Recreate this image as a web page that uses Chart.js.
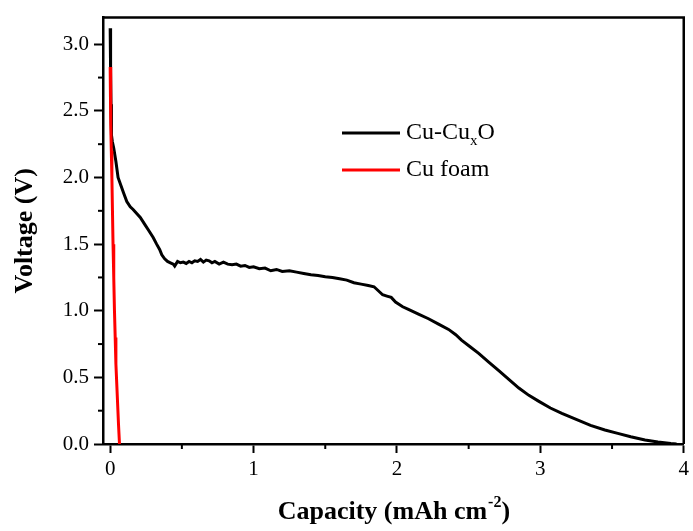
<!DOCTYPE html>
<html>
<head>
<meta charset="utf-8">
<script src="https://cdn.jsdelivr.net/npm/chart.js@4"></script>
<style>
    html, body { margin: 0; padding: 0; background: #fff; }
    #wrap { width: 693px; height: 531px; position: relative; }
</style>
</head>
<body>
<div id="wrap"><canvas id="voltageChart"></canvas></div>
<script>
// Discharge curves
const capCu = [0, 0.002, 0.004, 0.006, 0.008, 0.01, 0.015, 0.025, 0.04, 0.055, 0.075, 0.095, 0.116, 0.14, 0.16, 0.185, 0.21, 0.24, 0.27, 0.30,
    0.324, 0.345, 0.36, 0.38, 0.40, 0.42, 0.44, 0.45, 0.47, 0.49, 0.51, 0.53, 0.55, 0.57, 0.59, 0.61, 0.63, 0.65, 0.67, 0.69,
    0.71, 0.73, 0.76, 0.79, 0.82, 0.85, 0.88, 0.91, 0.94, 0.97, 1.00, 1.04, 1.08, 1.12, 1.16, 1.20, 1.25, 1.30, 1.35, 1.40,
    1.45, 1.50, 1.55, 1.60, 1.65, 1.70, 1.75, 1.80, 1.84, 1.87, 1.90, 1.93, 1.96, 1.99, 2.04, 2.08, 2.15, 2.22, 2.29, 2.36,
    2.41, 2.45, 2.51, 2.57, 2.64, 2.71, 2.78, 2.85, 2.92, 2.99, 3.07, 3.15, 3.25, 3.35, 3.45, 3.54, 3.63, 3.73, 3.82, 3.91, 3.95];
const voltCu = [3.12, 3.0, 2.8, 2.55, 2.38, 2.32, 2.27, 2.22, 2.12, 2.0, 1.94, 1.88, 1.82, 1.78, 1.76, 1.73, 1.70, 1.65, 1.60, 1.55,
    1.50, 1.46, 1.42, 1.39, 1.37, 1.36, 1.35, 1.335, 1.37, 1.36, 1.365, 1.355, 1.37, 1.36, 1.375, 1.37, 1.385, 1.365, 1.38, 1.375,
    1.36, 1.37, 1.35, 1.365, 1.35, 1.345, 1.35, 1.335, 1.34, 1.325, 1.33, 1.315, 1.32, 1.30, 1.31, 1.295, 1.30, 1.29, 1.28, 1.27,
    1.265, 1.255, 1.25, 1.24, 1.23, 1.21, 1.20, 1.19, 1.18, 1.15, 1.12, 1.11, 1.10, 1.065, 1.03, 1.01, 0.975, 0.94, 0.90, 0.86,
    0.82, 0.78, 0.73, 0.68, 0.615, 0.55, 0.485, 0.42, 0.365, 0.32, 0.27, 0.23, 0.185, 0.14, 0.105, 0.08, 0.055, 0.03, 0.015, 0.003, 0.0];

const capFoam = [0, 0.003, 0.005, 0.008, 0.012, 0.016, 0.02, 0.025, 0.03, 0.035, 0.04, 0.046, 0.052, 0.058, 0.065];
const voltFoam = [2.83, 2.6, 2.4, 2.2, 2.0, 1.75, 1.5, 1.25, 1.0, 0.8, 0.6, 0.45, 0.3, 0.15, 0.0];

const xTicks = [0, 1, 2, 3, 4];
const yTicks = [0, 0.5, 1.0, 1.5, 2.0, 2.5, 3.0];

const seriesNames = ['Cu-Cu', 'Cu foam'];
const seriesColors = ['#000000', '#ff0000'];

const serif = "'Liberation Serif', 'Times New Roman', serif";

function toPoints(xs, ys) {
    return xs.map(function(x, i) { return { x: x, y: ys[i] }; });
}

// Box, minor ticks, axis titles and legend
const framePlugin = {
    id: 'frame',
    afterDraw: function(chart) {
        const ctx = chart.ctx;
        const area = chart.chartArea;
        const xs = chart.scales.x;
        const ys = chart.scales.y;

        ctx.save();
        ctx.strokeStyle = '#000';
        ctx.lineWidth = 2.5;
        ctx.beginPath();
        ctx.moveTo(area.left, area.top);
        ctx.lineTo(area.right, area.top);
        ctx.lineTo(area.right, area.bottom);
        ctx.stroke();

        // minor ticks half way between majors
        ctx.lineWidth = 2;
        for (let i = 0; i < xTicks.length - 1; i++) {
            const px = xs.getPixelForValue((xTicks[i] + xTicks[i + 1]) / 2);
            ctx.beginPath();
            ctx.moveTo(px, area.bottom);
            ctx.lineTo(px, area.bottom + 5);
            ctx.stroke();
        }
        for (let i = 0; i < yTicks.length - 1; i++) {
            const py = ys.getPixelForValue((yTicks[i] + yTicks[i + 1]) / 2);
            ctx.beginPath();
            ctx.moveTo(area.left, py);
            ctx.lineTo(area.left - 5, py);
            ctx.stroke();
        }

        ctx.fillStyle = '#000';

        // x title with superscript
        const cx = (area.left + area.right) / 2;
        const mainTxt = 'Capacity (mAh cm';
        ctx.font = 'bold 16px ' + serif;
        const supW = ctx.measureText('-2').width;
        ctx.font = 'bold 26px ' + serif;
        const mainW = ctx.measureText(mainTxt).width;
        const closeW = ctx.measureText(')').width;
        let tx = cx - (mainW + supW + closeW) / 2;
        ctx.textBaseline = 'alphabetic';
        ctx.textAlign = 'left';
        ctx.fillText(mainTxt, tx, 519);
        ctx.font = 'bold 16px ' + serif;
        ctx.fillText('-2', tx + mainW + 1, 507);
        ctx.font = 'bold 26px ' + serif;
        ctx.fillText(')', tx + mainW + supW + 1, 519);

        // y title
        ctx.save();
        ctx.translate(32, (area.top + area.bottom) / 2);
        ctx.rotate(-Math.PI / 2);
        ctx.textAlign = 'center';
        ctx.fillText('Voltage (V)', 0, 0);
        ctx.restore();

        // legend
        const legendY = [133, 170];
        for (let i = 0; i < seriesNames.length; i++) {
            ctx.strokeStyle = seriesColors[i];
            ctx.lineWidth = 3;
            ctx.beginPath();
            ctx.moveTo(342, legendY[i]);
            ctx.lineTo(400, legendY[i]);
            ctx.stroke();
            ctx.font = '24px ' + serif;
            ctx.textBaseline = 'middle';
            ctx.fillText(seriesNames[i], 406, legendY[i]);
            if (i === 0) {
                const w = ctx.measureText(seriesNames[i]).width;
                ctx.font = '15px ' + serif;
                ctx.fillText('x', 406 + w, legendY[i] + 8);
                const xw = ctx.measureText('x').width;
                ctx.font = '24px ' + serif;
                ctx.fillText('O', 406 + w + xw, legendY[i]);
            }
        }
        ctx.restore();
    }
};

document.addEventListener('DOMContentLoaded', function() {
    const ctx = document.getElementById('voltageChart');

    new Chart(ctx, {
        type: 'line',
        data: {
            datasets: [
                {
                    label: 'Cu-CuxO',
                    data: toPoints(capCu, voltCu),
                    borderColor: seriesColors[0],
                    borderWidth: 3,
                    pointRadius: 0,
                    tension: 0,
                    order: 1
                },
                {
                    label: 'Cu foam',
                    data: toPoints(capFoam, voltFoam),
                    borderColor: seriesColors[1],
                    borderWidth: 3,
                    pointRadius: 0,
                    tension: 0,
                    order: 0
                }
            ]
        },
        options: {
            responsive: true,
            maintainAspectRatio: false,
            animation: false,
            layout: { padding: { top: 15, right: 7, left: 0, bottom: 0 } },
            scales: {
                x: {
                    type: 'linear',
                    min: -0.05,
                    max: 4,
                    afterFit: function(scale) { scale.height = 87; },
                    afterBuildTicks: function(scale) {
                        scale.ticks = xTicks.map(function(v) { return { value: v }; });
                    },
                    ticks: {
                        color: '#000',
                        font: { family: serif, size: 21 },
                        padding: 4,
                        maxRotation: 0,
                        callback: function(v) { return String(v); }
                    },
                    grid: {
                        drawOnChartArea: false,
                        tickLength: 9,
                        tickWidth: 2,
                        tickColor: '#000'
                    },
                    border: { color: '#000', width: 2.5 }
                },
                y: {
                    type: 'linear',
                    min: 0,
                    max: 3.2,
                    afterFit: function(scale) { scale.width = 103; },
                    afterBuildTicks: function(scale) {
                        scale.ticks = yTicks.map(function(v) { return { value: v }; });
                    },
                    ticks: {
                        color: '#000',
                        font: { family: serif, size: 21 },
                        padding: 5,
                        callback: function(v) { return Number(v).toFixed(1); }
                    },
                    grid: {
                        drawOnChartArea: false,
                        tickLength: 9,
                        tickWidth: 2,
                        tickColor: '#000'
                    },
                    border: { color: '#000', width: 2.5 }
                }
            },
            plugins: {
                legend: { display: false },
                tooltip: { enabled: false }
            }
        },
        plugins: [framePlugin]
    });
});
</script>
</body>
</html>
